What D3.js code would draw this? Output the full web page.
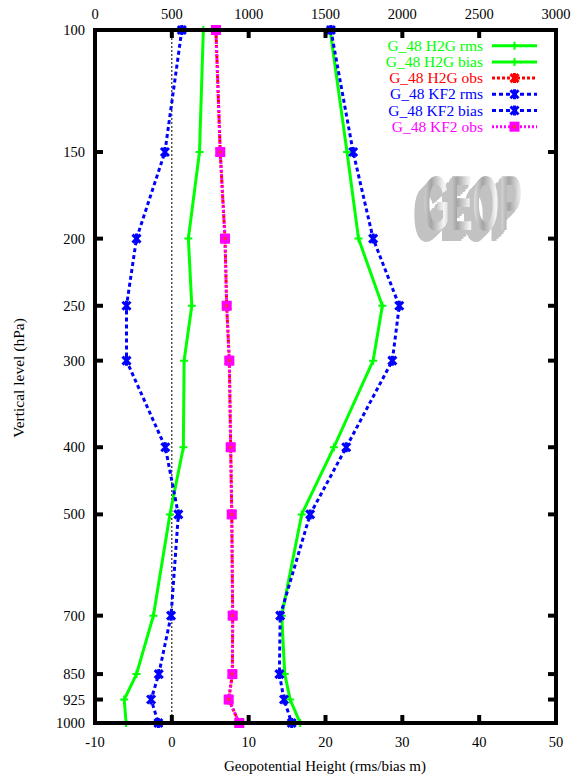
<!DOCTYPE html>
<html>
<head>
<meta charset="utf-8">
<script src="https://cdn.jsdelivr.net/npm/d3@7/dist/d3.min.js"></script>
<style>
  body { margin: 0; background: #fff; }
  svg text { font-family: 'Liberation Serif', 'DejaVu Serif', serif; }
</style>
</head>
<body>
<div id="chart"></div>
<script>
const width = 578;
const height = 776;

// pressure levels (hPa)
const levels = [100, 150, 200, 250, 300, 400, 500, 700, 850, 925, 1000];
const xTicks = [-10, 0, 10, 20, 30, 40, 50];
const topTicks = [0, 500, 1000, 1500, 2000, 2500, 3000];

// values, one per level
const h2gRms = [20.6, 22.8, 24.3, 27.4, 26.2, 21.1, 16.9, 14.3, 14.7, 15.4, 16.7];
const h2gBias = [4.1, 3.6, 2.15, 2.6, 1.6, 1.5, -0.25, -2.4, -4.6, -6.2, -5.95];
const h2gObs = [787, 815, 846, 857, 874, 883, 890, 896, 894, 870, 939];
const kf2Rms = [20.7, 23.6, 26.2, 29.6, 28.7, 22.7, 18.0, 14.1, 14.0, 14.6, 15.6];
const kf2Bias = [1.3, -0.9, -4.6, -5.9, -5.9, -0.85, 0.85, -0.1, -1.7, -2.7, -1.75];
const kf2Obs = [787, 815, 846, 857, 874, 883, 890, 896, 894, 870, 939];

const series = [
  { name: 'G_48 H2G rms', values: h2gRms, color: '#00ff00', axis: 'bottom', dash: null, mark: 'plus' },
  { name: 'G_48 H2G bias', values: h2gBias, color: '#00ff00', axis: 'bottom', dash: null, mark: 'plus' },
  { name: 'G_48 H2G obs', values: h2gObs, color: '#ff0000', axis: 'top', dash: '3,2', mark: 'cross' },
  { name: 'G_48 KF2 rms', values: kf2Rms, color: '#0000ff', axis: 'bottom', dash: '4,3', mark: 'cross' },
  { name: 'G_48 KF2 bias', values: kf2Bias, color: '#0000ff', axis: 'bottom', dash: '4,3', mark: 'cross' },
  { name: 'G_48 KF2 obs', values: kf2Obs, color: '#ff00ff', axis: 'top', dash: '2,2', mark: 'square' },
];

const plotLeft = 95, plotRight = 556, plotTop = 30, plotBottom = 723;

const x = d3.scaleLinear().domain([-10, 50]).range([plotLeft, plotRight]);
const xTop = d3.scaleLinear().domain([0, 3000]).range([plotLeft, plotRight]);
const y = d3.scaleLog().domain([100, 1000]).range([plotTop, plotBottom]);

const svg = d3.select('#chart').append('svg')
  .attr('width', width)
  .attr('height', height);

// GEOP logo: one text, gradient repeats per letter, extrusion from a filter
const defs = svg.append('defs');
const grad = defs.append('linearGradient')
  .attr('id', 'geopGrad')
  .attr('gradientUnits', 'userSpaceOnUse')
  .attr('spreadMethod', 'reflect')
  .attr('x1', 424).attr('x2', 437).attr('y1', 0).attr('y2', 0);
grad.append('stop').attr('offset', '0%').attr('stop-color', '#a4a4a4');
grad.append('stop').attr('offset', '100%').attr('stop-color', '#f6f6f6');

const filt = defs.append('filter')
  .attr('id', 'extrude')
  .attr('x', '-20%').attr('y', '-20%').attr('width', '140%').attr('height', '140%');
filt.append('feFlood').attr('flood-color', '#c2c2c2').attr('result', 'grey');
filt.append('feComposite').attr('in', 'grey').attr('in2', 'SourceAlpha').attr('operator', 'in').attr('result', 'shape');
const steps = [1, 2, 3, 4, 5, 6];
steps.forEach(function (k) {
  filt.append('feOffset').attr('in', 'shape').attr('dx', -k * 1.6).attr('dy', k * 1.0).attr('result', 'o' + k);
});
const merge = filt.append('feMerge');
steps.slice().reverse().forEach(k => merge.append('feMergeNode').attr('in', 'o' + k));
merge.append('feMergeNode').attr('in', 'SourceGraphic');

svg.append('text')
  .attr('transform', 'translate(423,230) scale(1,1.85)')
  .attr('font-weight', 'bold')
  .attr('font-size', 42)
  .attr('textLength', 99)
  .attr('lengthAdjust', 'spacingAndGlyphs')
  .style('font-family', "'Liberation Sans Narrow', 'Liberation Sans', sans-serif")
  .attr('fill', 'url(#geopGrad)')
  .attr('filter', 'url(#extrude)')
  .text('GEOP');

// zero line
svg.append('line')
  .attr('x1', x(0)).attr('x2', x(0))
  .attr('y1', plotTop).attr('y2', plotBottom)
  .attr('stroke', '#000')
  .attr('stroke-width', 1)
  .attr('stroke-dasharray', '2,2');

function drawMark(g, type, cx, cy, color) {
  if (type === 'plus') {
    g.append('path')
      .attr('d', 'M' + (cx - 4) + ',' + cy + 'H' + (cx + 4) + 'M' + cx + ',' + (cy - 4) + 'V' + (cy + 4))
      .attr('stroke', color).attr('stroke-width', 2).attr('fill', 'none');
  } else if (type === 'cross') {
    g.append('path')
      .attr('d', 'M' + (cx - 4) + ',' + (cy - 4) + 'L' + (cx + 4) + ',' + (cy + 4) +
        'M' + (cx - 4) + ',' + (cy + 4) + 'L' + (cx + 4) + ',' + (cy - 4) +
        'M' + cx + ',' + (cy - 5) + 'V' + (cy + 5))
      .attr('stroke', color).attr('stroke-width', 3).attr('fill', 'none');
  } else if (type === 'square') {
    g.append('rect')
      .attr('x', cx - 5).attr('y', cy - 5)
      .attr('width', 10).attr('height', 10)
      .attr('fill', color);
    g.append('rect')
      .attr('x', cx - 1.5).attr('y', cy - 1.5)
      .attr('width', 3).attr('height', 3)
      .attr('fill', '#ff3030');
  }
}

const plot = svg.append('g');
series.forEach(function (s) {
  const pts = levels.map((p, i) => ({ p: p, v: s.values[i] }));
  const sx = s.axis === 'top' ? xTop : x;
  const line = d3.line()
    .x(d => sx(d.v))
    .y(d => y(d.p));
  plot.append('path')
    .datum(pts)
    .attr('d', line)
    .attr('fill', 'none')
    .attr('stroke', s.color)
    .attr('stroke-width', 3)
    .attr('stroke-dasharray', s.dash);
  const mg = plot.append('g');
  pts.forEach(d => drawMark(mg, s.mark, sx(d.v), y(d.p), s.color));
});

// frame
svg.append('rect')
  .attr('x', plotLeft).attr('y', plotTop)
  .attr('width', plotRight - plotLeft).attr('height', plotBottom - plotTop)
  .attr('fill', 'none')
  .attr('stroke', '#000')
  .attr('stroke-width', 4);

// ticks
const ticks = svg.append('g').attr('stroke', '#000').attr('stroke-width', 4);
xTicks.forEach(function (t) {
  ticks.append('line').attr('x1', x(t)).attr('x2', x(t)).attr('y1', plotBottom).attr('y2', plotBottom - 8);
});
topTicks.forEach(function (t) {
  ticks.append('line').attr('x1', xTop(t)).attr('x2', xTop(t)).attr('y1', plotTop).attr('y2', plotTop + 8);
});
levels.forEach(function (p) {
  ticks.append('line').attr('x1', plotLeft).attr('x2', plotLeft + 8).attr('y1', y(p)).attr('y2', y(p));
  ticks.append('line').attr('x1', plotRight).attr('x2', plotRight - 8).attr('y1', y(p)).attr('y2', y(p));
});

// tick labels
const labels = svg.append('g').attr('font-size', 14.5).attr('fill', '#000');
xTicks.forEach(function (t) {
  labels.append('text').attr('x', x(t)).attr('y', 747).attr('text-anchor', 'middle').text(t);
});
topTicks.forEach(function (t) {
  labels.append('text').attr('x', xTop(t)).attr('y', 19).attr('text-anchor', 'middle').text(t);
});
levels.forEach(function (p) {
  labels.append('text').attr('x', 85).attr('y', y(p) + 5).attr('text-anchor', 'end').text(p);
});

// axis titles
svg.append('text')
  .attr('x', 325).attr('y', 771)
  .attr('text-anchor', 'middle')
  .attr('font-size', 15)
  .text('Geopotential Height (rms/bias m)');

svg.append('text')
  .attr('transform', 'translate(24,378) rotate(-90)')
  .attr('text-anchor', 'middle')
  .attr('font-size', 15.5)
  .text('Vertical level (hPa)');

// legend
const legend = svg.append('g');
series.forEach(function (s, i) {
  const ly = 45.7 + i * 16.2;
  legend.append('text')
    .attr('x', 483).attr('y', ly + 5)
    .attr('text-anchor', 'end')
    .attr('font-size', 15.5)
    .attr('fill', s.color)
    .text(s.name);
  legend.append('line')
    .attr('x1', 492).attr('x2', 537)
    .attr('y1', ly).attr('y2', ly)
    .attr('stroke', s.color)
    .attr('stroke-width', 3)
    .attr('stroke-dasharray', s.dash);
  drawMark(legend, s.mark, 514.5, ly, s.color);
});
</script>
</body>
</html>
